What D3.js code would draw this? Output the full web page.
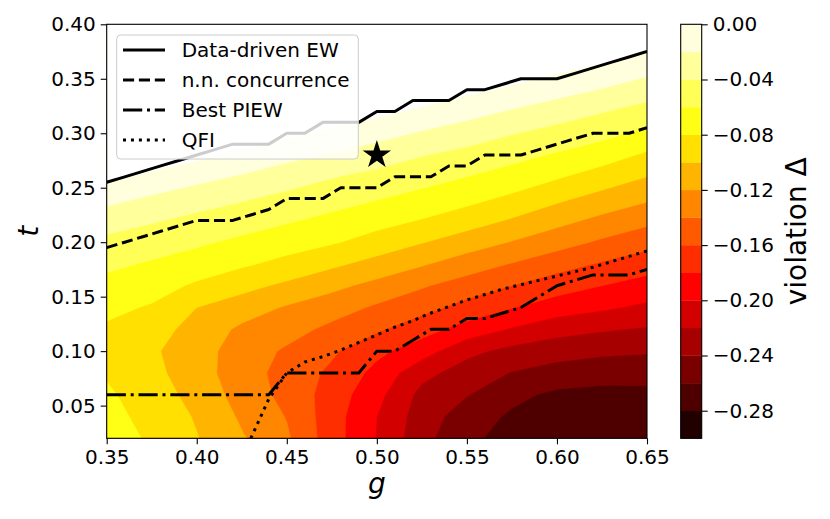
<!DOCTYPE html>
<html>
<head>
<meta charset="utf-8">
<script src="https://cdn.jsdelivr.net/npm/d3@7"></script>
<style>
  body { margin: 0; background: #fff; }
  text { font-family: "DejaVu Sans", sans-serif; }
</style>
</head>
<body>
<script>
// grid of the violation field (rows = t, columns = g)
const gGrid = [0.35, 0.375, 0.40, 0.425, 0.45, 0.475, 0.50, 0.525, 0.55, 0.575, 0.60, 0.625, 0.65];
const tGrid = [0.02, 0.04, 0.06, 0.08, 0.10, 0.12, 0.14, 0.16, 0.18, 0.20,
               0.22, 0.24, 0.26, 0.28, 0.30, 0.32, 0.34, 0.36, 0.38, 0.40];
const violation = [
  [-0.070, -0.083, -0.099, -0.118, -0.137, -0.171, -0.201, -0.233, -0.257, -0.265, -0.270, -0.273, -0.275],
  [-0.074, -0.086, -0.102, -0.123, -0.141, -0.171, -0.200, -0.230, -0.250, -0.263, -0.268, -0.271, -0.273],
  [-0.077, -0.090, -0.107, -0.128, -0.146, -0.169, -0.194, -0.226, -0.239, -0.255, -0.264, -0.266, -0.265],
  [-0.082, -0.094, -0.112, -0.130, -0.148, -0.164, -0.186, -0.214, -0.229, -0.241, -0.248, -0.252, -0.253],
  [-0.088, -0.097, -0.112, -0.129, -0.143, -0.157, -0.175, -0.191, -0.215, -0.226, -0.232, -0.236, -0.238],
  [-0.083, -0.092, -0.107, -0.124, -0.132, -0.145, -0.157, -0.172, -0.188, -0.202, -0.213, -0.218, -0.222],
  [-0.075, -0.082, -0.100, -0.110, -0.122, -0.131, -0.143, -0.153, -0.167, -0.179, -0.190, -0.197, -0.204],
  [-0.066, -0.072, -0.083, -0.094, -0.104, -0.115, -0.126, -0.138, -0.149, -0.160, -0.171, -0.180, -0.188],
  [-0.056, -0.062, -0.069, -0.077, -0.086, -0.096, -0.107, -0.118, -0.130, -0.141, -0.152, -0.162, -0.171],
  [-0.045, -0.051, -0.057, -0.064, -0.071, -0.078, -0.088, -0.099, -0.110, -0.121, -0.132, -0.143, -0.153],
  [-0.031, -0.038, -0.045, -0.051, -0.058, -0.065, -0.073, -0.081, -0.091, -0.102, -0.114, -0.125, -0.135],
  [-0.014, -0.023, -0.031, -0.038, -0.045, -0.052, -0.059, -0.066, -0.074, -0.084, -0.096, -0.107, -0.117],
  [ 0.005, -0.005, -0.014, -0.022, -0.031, -0.039, -0.046, -0.053, -0.060, -0.068, -0.078, -0.089, -0.100],
  [ 0.023,  0.014,  0.005, -0.005, -0.014, -0.022, -0.030, -0.039, -0.046, -0.054, -0.062, -0.071, -0.083],
  [ 0.040,  0.032,  0.023,  0.014,  0.005, -0.005, -0.013, -0.022, -0.030, -0.039, -0.047, -0.054, -0.065],
  [ 0.058,  0.050,  0.041,  0.032,  0.023,  0.014,  0.005, -0.004, -0.013, -0.022, -0.030, -0.039, -0.048],
  [ 0.076,  0.068,  0.059,  0.050,  0.041,  0.032,  0.023,  0.014,  0.005, -0.004, -0.013, -0.021, -0.030],
  [ 0.094,  0.086,  0.077,  0.068,  0.059,  0.050,  0.041,  0.032,  0.023,  0.014,  0.005, -0.004, -0.013],
  [ 0.112,  0.104,  0.095,  0.086,  0.077,  0.068,  0.059,  0.050,  0.041,  0.032,  0.023,  0.014,  0.005],
  [ 0.130,  0.122,  0.113,  0.104,  0.095,  0.086,  0.077,  0.068,  0.059,  0.050,  0.041,  0.032,  0.023]
];
const levels = [-0.30, -0.28, -0.26, -0.24, -0.22, -0.20, -0.18, -0.16, -0.14, -0.12,
                -0.10, -0.08, -0.06, -0.04, -0.02, 0.00];
const cbarTicks = [0.00, -0.04, -0.08, -0.12, -0.16, -0.20, -0.24, -0.28];
const xTicks = [0.35, 0.40, 0.45, 0.50, 0.55, 0.60, 0.65];
const yTicks = [0.05, 0.10, 0.15, 0.20, 0.25, 0.30, 0.35, 0.40];

// boundary lines, sampled every 0.01 in g
const gLine = [0.35, 0.36, 0.37, 0.38, 0.39, 0.40, 0.41, 0.42, 0.43, 0.44, 0.45, 0.46, 0.47, 0.48, 0.49, 0.50,
               0.51, 0.52, 0.53, 0.54, 0.55, 0.56, 0.57, 0.58, 0.59, 0.60, 0.61, 0.62, 0.63, 0.64, 0.65];
const ewT = [0.255, 0.26, 0.265, 0.27, 0.275, 0.28, 0.285, 0.29, 0.29, 0.29, 0.30, 0.30, 0.31, 0.31, 0.31, 0.32,
             0.32, 0.33, 0.33, 0.33, 0.34, 0.34, 0.345, 0.35, 0.35, 0.35, 0.355, 0.36, 0.365, 0.37, 0.375];
const nnT = [0.195, 0.20, 0.205, 0.21, 0.215, 0.22, 0.22, 0.22, 0.225, 0.23, 0.24, 0.24, 0.24, 0.25, 0.25, 0.25,
             0.26, 0.26, 0.26, 0.27, 0.27, 0.28, 0.28, 0.28, 0.285, 0.29, 0.295, 0.30, 0.30, 0.30, 0.305];
const piewT = [0.06, 0.06, 0.06, 0.06, 0.06, 0.06, 0.06, 0.06, 0.06, 0.06, 0.08, 0.08, 0.08, 0.08, 0.08, 0.10,
               0.10, 0.11, 0.12, 0.12, 0.13, 0.13, 0.135, 0.14, 0.15, 0.16, 0.165, 0.17, 0.17, 0.17, 0.175];
const qfiG = [0.43, 0.44, 0.45, 0.46, 0.47, 0.48, 0.49, 0.50, 0.51, 0.52, 0.53, 0.54, 0.55,
              0.56, 0.57, 0.58, 0.59, 0.60, 0.61, 0.62, 0.63, 0.64, 0.65];
const qfiT = [0.02, 0.056, 0.08, 0.09, 0.095, 0.101, 0.108, 0.115, 0.122, 0.128, 0.135, 0.141, 0.147,
              0.152, 0.157, 0.161, 0.165, 0.169, 0.173, 0.177, 0.182, 0.187, 0.192];
const starPoint = [0.50, 0.28];

const legendItems = [
  { label: "Data-driven EW", dash: null },
  { label: "n.n. concurrence", dash: "11.1,4.8" },
  { label: "Best PIEW", dash: "19.2,4.8,3,4.8" },
  { label: "QFI", dash: "3,4.95" }
];

const width = 830;
const height = 519;
const plot = { left: 106.7, right: 647, top: 24.3, bottom: 438.3 };
const cbar = { left: 680.7, width: 21 };

const svg = d3.select("body").append("svg")
  .attr("width", width)
  .attr("height", height);

const x = d3.scaleLinear().domain([0.35, 0.65]).range([plot.left, plot.right]);
const y = d3.scaleLinear().domain([0.02, 0.40]).range([plot.bottom, plot.top]);

// matplotlib "hot" colormap
const hot = (v) => {
  const c = (a) => Math.max(0, Math.min(1, a));
  return d3.rgb(
    255 * c(0.0416 + (1 - 0.0416) * v / 0.365079),
    255 * c((v - 0.365079) / (0.746032 - 0.365079)),
    255 * c((v - 0.746032) / (1 - 0.746032))
  ).formatHex();
};
const nBands = levels.length - 1;
const bandColor = (k) => k < nBands ? hot((k + 0.5) / nBands) : "#ffffff";

svg.append("defs").append("clipPath").attr("id", "plot-clip")
  .append("rect")
  .attr("x", plot.left).attr("y", plot.top)
  .attr("width", plot.right - plot.left).attr("height", plot.bottom - plot.top);

// filled contours
const nx = gGrid.length, ny = tGrid.length;
const dg = gGrid[1] - gGrid[0], dt = tGrid[1] - tGrid[0];
const contours = d3.contours().size([nx, ny]).thresholds(levels)(violation.flat());
const gridToPlot = d3.geoTransform({
  point(px, py) {
    this.stream.point(x(gGrid[0] + (px - 0.5) * dg), y(tGrid[0] + (py - 0.5) * dt));
  }
});
const path = d3.geoPath(gridToPlot);

const field = svg.append("g").attr("clip-path", "url(#plot-clip)");
field.selectAll("path")
  .data(contours)
  .join("path")
  .attr("d", path)
  .attr("fill", (d, i) => bandColor(i))
  .attr("stroke", (d, i) => bandColor(i))
  .attr("stroke-width", 0.5);

// boundary lines
const line = d3.line().x((d) => x(d[0])).y((d) => y(d[1]));
const lines = svg.append("g").attr("clip-path", "url(#plot-clip)")
  .attr("fill", "none").attr("stroke", "#000").attr("stroke-width", 3)
  .attr("stroke-linejoin", "round");

lines.append("path").attr("d", line(d3.zip(gLine, ewT)));
lines.append("path").attr("d", line(d3.zip(gLine, nnT))).attr("stroke-dasharray", legendItems[1].dash);
lines.append("path").attr("d", line(d3.zip(gLine, piewT))).attr("stroke-dasharray", legendItems[2].dash);
lines.append("path").attr("d", line(d3.zip(qfiG, qfiT))).attr("stroke-dasharray", legendItems[3].dash);

svg.append("path")
  .attr("d", d3.symbol(d3.symbolStar, 250)())
  .attr("transform", `translate(${x(starPoint[0])},${y(starPoint[1])})`)
  .attr("fill", "#000");

// axes
const fmt = d3.format(".2f");
const xAxis = svg.append("g")
  .attr("transform", `translate(0,${plot.bottom})`)
  .call(d3.axisBottom(x).tickValues(xTicks).tickFormat(fmt).tickSize(6).tickPadding(6));
const yAxis = svg.append("g")
  .attr("transform", `translate(${plot.left},0)`)
  .call(d3.axisLeft(y).tickValues(yTicks).tickFormat(fmt).tickSize(6).tickPadding(5));
[xAxis, yAxis].forEach((a) => {
  a.select(".domain").remove();
  a.selectAll("text").attr("font-size", 20).attr("fill", "#000")
    .attr("font-family", "DejaVu Sans");
  a.selectAll("line").attr("stroke", "#000").attr("stroke-width", 1.1);
});

svg.append("rect")
  .attr("x", plot.left).attr("y", plot.top)
  .attr("width", plot.right - plot.left).attr("height", plot.bottom - plot.top)
  .attr("fill", "none").attr("stroke", "#000").attr("stroke-width", 1.1);

svg.append("text")
  .attr("x", x(0.50)).attr("y", 493)
  .attr("text-anchor", "middle").attr("font-size", 28).attr("font-style", "italic")
  .text("g");
svg.append("text")
  .attr("transform", `translate(38,${(plot.top + plot.bottom) / 2}) rotate(-90)`)
  .attr("text-anchor", "middle").attr("font-size", 28).attr("font-style", "italic")
  .text("t");

// colorbar
const cy = d3.scaleLinear().domain([levels[0], levels[nBands]]).range([plot.bottom, plot.top]);
svg.append("g").selectAll("rect")
  .data(d3.range(nBands))
  .join("rect")
  .attr("x", cbar.left)
  .attr("width", cbar.width)
  .attr("y", (k) => cy(levels[k + 1]))
  .attr("height", (k) => cy(levels[k]) - cy(levels[k + 1]) + 0.3)
  .attr("fill", (k) => bandColor(k));
svg.append("rect")
  .attr("x", cbar.left).attr("y", plot.top)
  .attr("width", cbar.width).attr("height", plot.bottom - plot.top)
  .attr("fill", "none").attr("stroke", "#000").attr("stroke-width", 1.1);
const cAxis = svg.append("g")
  .attr("transform", `translate(${cbar.left + cbar.width},0)`)
  .call(d3.axisRight(cy).tickValues(cbarTicks).tickFormat(fmt).tickSize(6).tickPadding(5));
cAxis.select(".domain").remove();
cAxis.selectAll("text").attr("font-size", 20).attr("fill", "#000").attr("font-family", "DejaVu Sans");
cAxis.selectAll("line").attr("stroke", "#000").attr("stroke-width", 1.1);

svg.append("text")
  .attr("transform", `translate(806,${(plot.top + plot.bottom) / 2}) rotate(-90)`)
  .attr("text-anchor", "middle").attr("font-size", 28)
  .text("violation Δ");

// legend
const legend = svg.append("g");
legend.append("rect")
  .attr("x", 116.7).attr("y", 35).attr("width", 241.6).attr("height", 124).attr("rx", 4)
  .attr("fill", "#fff").attr("fill-opacity", 0.8)
  .attr("stroke", "#cccccc").attr("stroke-width", 1);
const rows = legend.selectAll("g.item")
  .data(legendItems)
  .join("g")
  .attr("class", "item")
  .attr("transform", (d, i) => `translate(0,${50 + i * 30})`);
rows.append("line")
  .attr("x1", 123).attr("x2", 165)
  .attr("stroke", "#000").attr("stroke-width", 3)
  .attr("stroke-dasharray", (d) => d.dash);
rows.append("text")
  .attr("x", 181.7).attr("dy", "0.35em").attr("font-size", 20)
  .text((d) => d.label);
</script>
</body>
</html>
